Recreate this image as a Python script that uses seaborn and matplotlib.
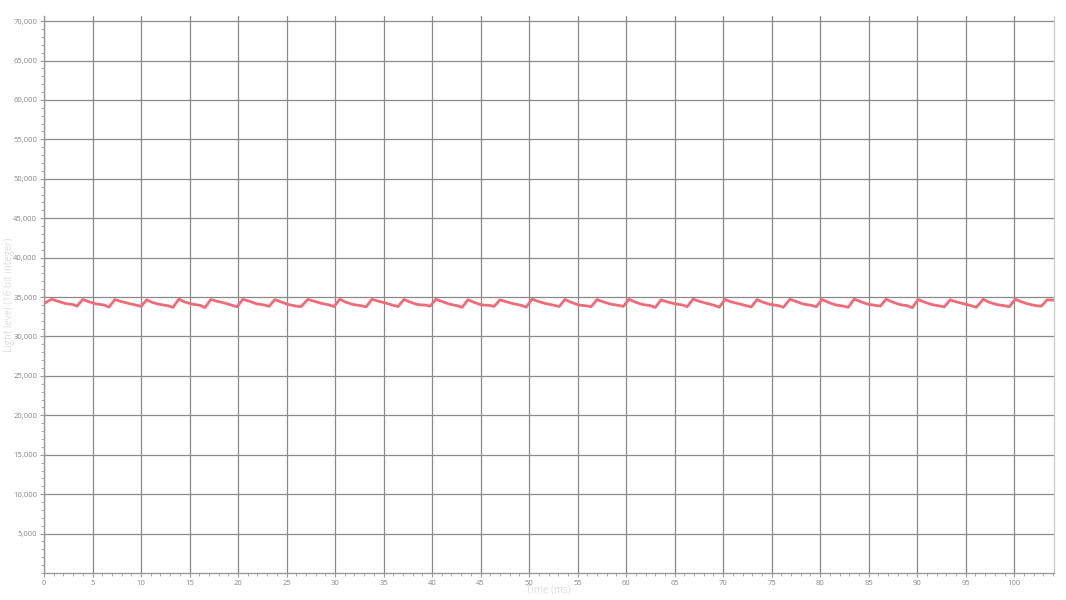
import matplotlib
matplotlib.use("Agg")
import matplotlib.pyplot as plt
from matplotlib.ticker import MultipleLocator
import seaborn as sns
import pandas as pd

time_ms = [
    0.0,
    0.8, 1.4, 2.2, 3.0, 3.4,
    4.0, 4.6, 5.4, 6.2, 6.7,
    7.3, 7.9, 8.7, 9.5, 10.0,
    10.6, 11.2, 12.0, 12.8, 13.3,
    13.9, 14.5, 15.3, 16.1, 16.6,
    17.2, 17.8, 18.6, 19.4, 19.9,
    20.5, 21.1, 21.9, 22.7, 23.2,
    23.8, 24.4, 25.2, 26.0, 26.5,
    27.2, 27.8, 28.6, 29.4, 29.9,
    30.5, 31.1, 31.9, 32.7, 33.2,
    33.8, 34.4, 35.2, 36.0, 36.5,
    37.1, 37.7, 38.5, 39.3, 39.8,
    40.4, 41.0, 41.8, 42.6, 43.1,
    43.7, 44.3, 45.1, 45.9, 46.4,
    47.0, 47.6, 48.4, 49.2, 49.7,
    50.3, 51.0, 51.8, 52.6, 53.1,
    53.7, 54.3, 55.1, 55.9, 56.4,
    57.0, 57.6, 58.4, 59.2, 59.7,
    60.3, 60.9, 61.7, 62.5, 63.0,
    63.6, 64.2, 65.0, 65.8, 66.3,
    66.9, 67.5, 68.3, 69.1, 69.6,
    70.2, 70.8, 71.6, 72.4, 72.9,
    73.5, 74.1, 74.9, 75.7, 76.2,
    76.9, 77.5, 78.3, 79.1, 79.6,
    80.2, 80.8, 81.6, 82.4, 82.9,
    83.5, 84.1, 84.9, 85.7, 86.2,
    86.8, 87.4, 88.2, 89.0, 89.5,
    90.1, 90.7, 91.5, 92.3, 92.8,
    93.4, 94.0, 94.8, 95.6, 96.1,
    96.8, 97.4, 98.2, 99.0, 99.5,
    100.1, 100.7, 101.5, 102.3, 102.8,
    103.4, 104.1,
]

light_level = [
    34200,
    34720, 34480, 34180, 34050, 33850,
    34700, 34420, 34120, 34000, 33720,
    34680, 34450, 34200, 33980, 33820,
    34650, 34300, 34050, 33900, 33700,
    34740, 34380, 34100, 33950, 33680,
    34700, 34480, 34250, 33950, 33780,
    34720, 34500, 34150, 34000, 33820,
    34680, 34400, 34050, 33850, 33800,
    34700, 34480, 34200, 34000, 33800,
    34740, 34350, 34050, 33900, 33750,
    34720, 34500, 34250, 33950, 33800,
    34700, 34380, 34050, 33980, 33850,
    34720, 34450, 34100, 33900, 33700,
    34660, 34350, 34000, 33950, 33820,
    34650, 34420, 34150, 33950, 33720,
    34740, 34420, 34150, 33950, 33800,
    34700, 34350, 34000, 33880, 33780,
    34680, 34420, 34100, 33950, 33820,
    34720, 34380, 34050, 33920, 33680,
    34640, 34400, 34150, 34000, 33780,
    34740, 34480, 34200, 33950, 33720,
    34700, 34400, 34150, 33900, 33750,
    34680, 34350, 34050, 33920, 33700,
    34720, 34450, 34100, 33950, 33780,
    34700, 34350, 34000, 33850, 33700,
    34740, 34450, 34100, 33950, 33850,
    34720, 34400, 34050, 33900, 33650,
    34700, 34380, 34050, 33880, 33750,
    34650, 34400, 34150, 33900, 33700,
    34720, 34350, 34050, 33900, 33780,
    34720, 34420, 34100, 33900, 33850,
    34650, 34600,
]

y_ticks = [5000, 10000, 15000, 20000, 25000, 30000, 35000,
           40000, 45000, 50000, 55000, 60000, 65000, 70000]
x_label = "Time (ms)"
y_label = "Light level (16 bit integer)"

sns.set_style("white")
plt.rcParams["font.family"] = ["Open Sans", "DejaVu Sans"]

df = pd.DataFrame({"time": time_ms, "level": light_level})

fig = plt.figure(figsize=(10.66, 6.0), dpi=100)
ax = fig.add_axes([44 / 1066, 27 / 600, (1054 - 44) / 1066, (584 - 27) / 600])

sns.lineplot(data=df, x="time", y="level", ax=ax, color="#ee6b78",
             linewidth=2.0, zorder=3)

ax.set_xlim(0, 104.1)
ax.set_ylim(0, 70650)

ax.xaxis.set_major_locator(MultipleLocator(5))
ax.xaxis.set_minor_locator(MultipleLocator(1))
ax.yaxis.set_minor_locator(MultipleLocator(1000))
ax.set_yticks(y_ticks)
ax.set_yticklabels([f"{v:,}" for v in y_ticks])

ax.grid(True, which="major", color="#8a8a8a", linewidth=0.9)
ax.set_axisbelow(True)

ax.tick_params(axis="both", which="major", length=3, width=0.8, color="#999999",
               labelsize=5.5, labelcolor="#888888", pad=2, direction="out")
ax.tick_params(axis="both", which="minor", length=2, width=0.7, color="#aaaaaa",
               direction="out")
ax.tick_params(left=True, bottom=True, which="both")

ax.spines["top"].set_visible(False)
ax.spines["left"].set_color("#999999")
ax.spines["bottom"].set_color("#999999")
ax.spines["right"].set_color("#cccccc")
for side in ["left", "bottom", "right"]:
    ax.spines[side].set_linewidth(1.0)

ax.set_xlabel(x_label, fontsize=7, color="#dddddd")
ax.set_ylabel(y_label, fontsize=7, color="#dddddd")
ax.xaxis.set_label_coords((548 - 44) / 1010, -(585 - 573) / 557)
ax.yaxis.set_label_coords(-(44 - 15) / 1010, (573 - 295) / 557)

fig.savefig("out.png", dpi=100, facecolor="white")
